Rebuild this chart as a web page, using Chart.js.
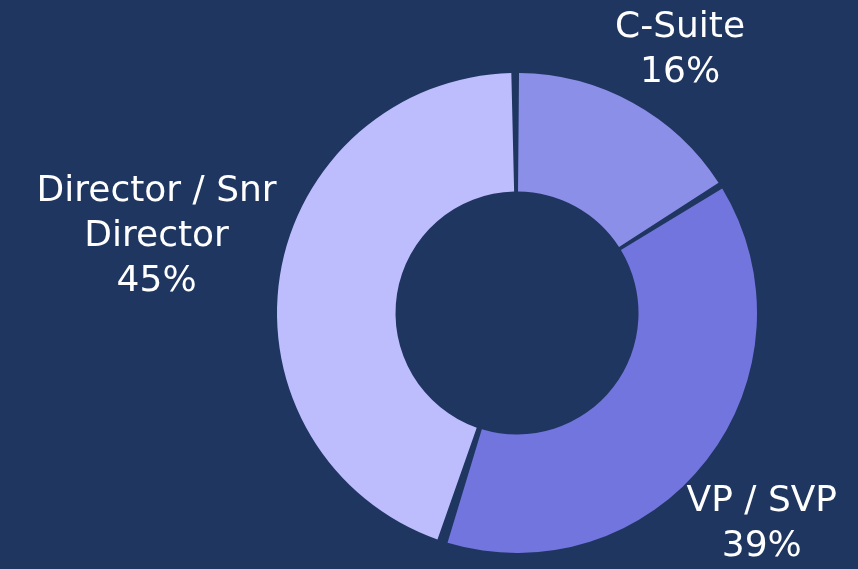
<!DOCTYPE html>
<html lang="en">
<head>
  <meta charset="UTF-8">
  <title>Seniority breakdown</title>
  <style>
    html, body {
      margin: 0;
      padding: 0;
      background: #1f3660;
    }
    .chart-wrap {
      width: 858px;
      height: 569px;
      position: relative;
    }
  </style>
</head>
<body>
  <div class="chart-wrap">
    <canvas id="seniorityChart"></canvas>
  </div>

  <script src="https://cdn.jsdelivr.net/npm/chart.js"></script>
  <script>
    // Data
    const categories = ['C-Suite', 'VP / SVP', 'Director / Snr Director'];
    const shares = [16, 39, 45];
    const sliceColors = ['#8b8fe8', '#7375df', '#bdbdfd'];

    const labelFont = '36px "DejaVu Sans", sans-serif';
    const lineHeight = 45;
    const labelGap = 0;
    const labelTurn = 3 * Math.PI / 180; // labels sit a touch clockwise of the slice middle

    // wrap a label into lines no wider than maxWidth
    function wrapText(ctx, text, maxWidth) {
      const words = text.split(' ');
      const lines = [];
      let line = '';
      words.forEach(w => {
        const test = line ? line + ' ' + w : w;
        if (ctx.measureText(test).width > maxWidth && line) {
          lines.push(line);
          line = w;
        } else {
          line = test;
        }
      });
      if (line) lines.push(line);
      return lines;
    }

    // draws "label + percent" outside every slice
    const outsideLabels = {
      id: 'outsideLabels',
      afterDraw(chart) {
        const ctx = chart.ctx;
        const meta = chart.getDatasetMeta(0);
        const data = chart.data.datasets[0].data;
        const total = data.reduce((a, b) => a + b, 0);
        ctx.save();
        ctx.font = labelFont;
        ctx.fillStyle = '#ffffff';
        ctx.textAlign = 'center';
        ctx.textBaseline = 'middle';
        meta.data.forEach((arc, i) => {
          const p = arc.getProps(['x', 'y', 'startAngle', 'endAngle', 'outerRadius'], true);
          const mid = (p.startAngle + p.endAngle) / 2 + labelTurn;
          const pct = Math.round(data[i] / total * 100) + '%';
          const lines = wrapText(ctx, chart.data.labels[i], 300).concat([pct]);
          const w = Math.max(...lines.map(l => ctx.measureText(l).width));
          const h = lines.length * lineHeight;
          const dx = Math.cos(mid), dy = Math.sin(mid);
          const dist = p.outerRadius + labelGap + Math.abs(dx) * w / 2 + Math.abs(dy) * h / 2;
          const cx = p.x + dx * dist;
          const cy = p.y + dy * dist;
          lines.forEach((l, j) => {
            ctx.fillText(l, cx, cy - h / 2 + lineHeight * (j + 0.5));
          });
        });
        ctx.restore();
      }
    };

    const ctx = document.getElementById('seniorityChart').getContext('2d');
    new Chart(ctx, {
      type: 'doughnut',
      data: {
        labels: categories,
        datasets: [{
          data: shares,
          backgroundColor: sliceColors,
          borderWidth: 0,
          spacing: 6
        }]
      },
      options: {
        responsive: true,
        maintainAspectRatio: false,
        animation: false,
        cutout: '50%',
        layout: {
          padding: { top: 73, bottom: 16, left: 277, right: 101 }
        },
        plugins: {
          legend: { display: false },
          tooltip: { enabled: false }
        }
      },
      plugins: [outsideLabels]
    });
  </script>
</body>
</html>
